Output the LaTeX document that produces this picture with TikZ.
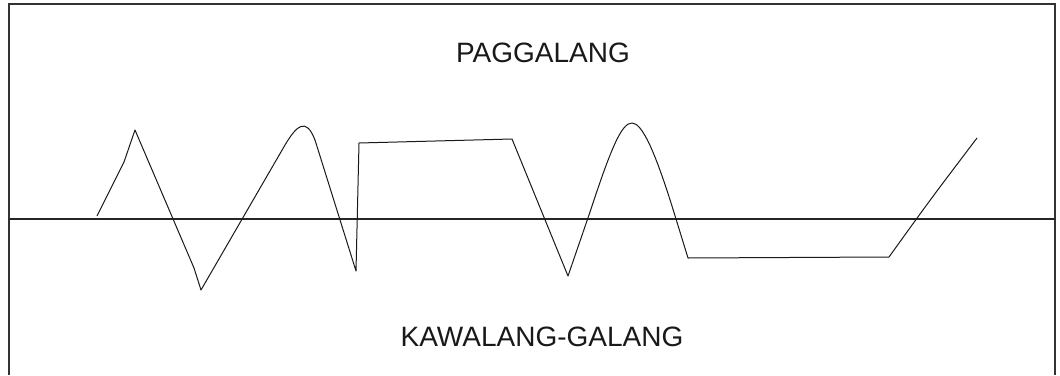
\documentclass[tikz,border=0pt]{standalone}
\usepackage{fontspec}
\setmainfont{Liberation Sans}
\tikzset{
  label/.style={font=\fontsize{28}{31}\selectfont, text=black!90, inner sep=0pt},
  frame/.style={line width=2.3pt, black!80},
  wave/.style={line width=1pt, line join=round, black!90}
}
\begin{document}
\begin{tikzpicture}[x=1pt,y=-1pt]
\useasboundingbox (0,0) rectangle (1060,375);
% Cadre (ouvert en bas)
\draw[frame] (9,375) -- (9,4) -- (1055,4) -- (1055,375);
% Axe horizontal
\draw[line width=2.6pt, black!85] (9,219) -- (1055,219);
% Courbe
\draw[wave] (97,216) -- (112,186) -- (124,162) -- (135,130) -- (194,268) -- (201,290)
  -- (285,145) .. controls (297,125) and (306,117) .. (315,140) -- (356,271)
  -- (359,143) -- (512,139) -- (568,276)
  -- (590,212) .. controls (612,145) and (622,123) .. (632,123)
  .. controls (642,123) and (655,150) .. (676,219) -- (688,258)
  -- (889,257) .. controls (930,200) .. (977,138);
% Libellés
\node[label] (itaas) at (543,53) {PAGGALANG};
\node[label] (ibaba) at (542,337) {KAWALANG-GALANG};
\end{tikzpicture}
\end{document}
